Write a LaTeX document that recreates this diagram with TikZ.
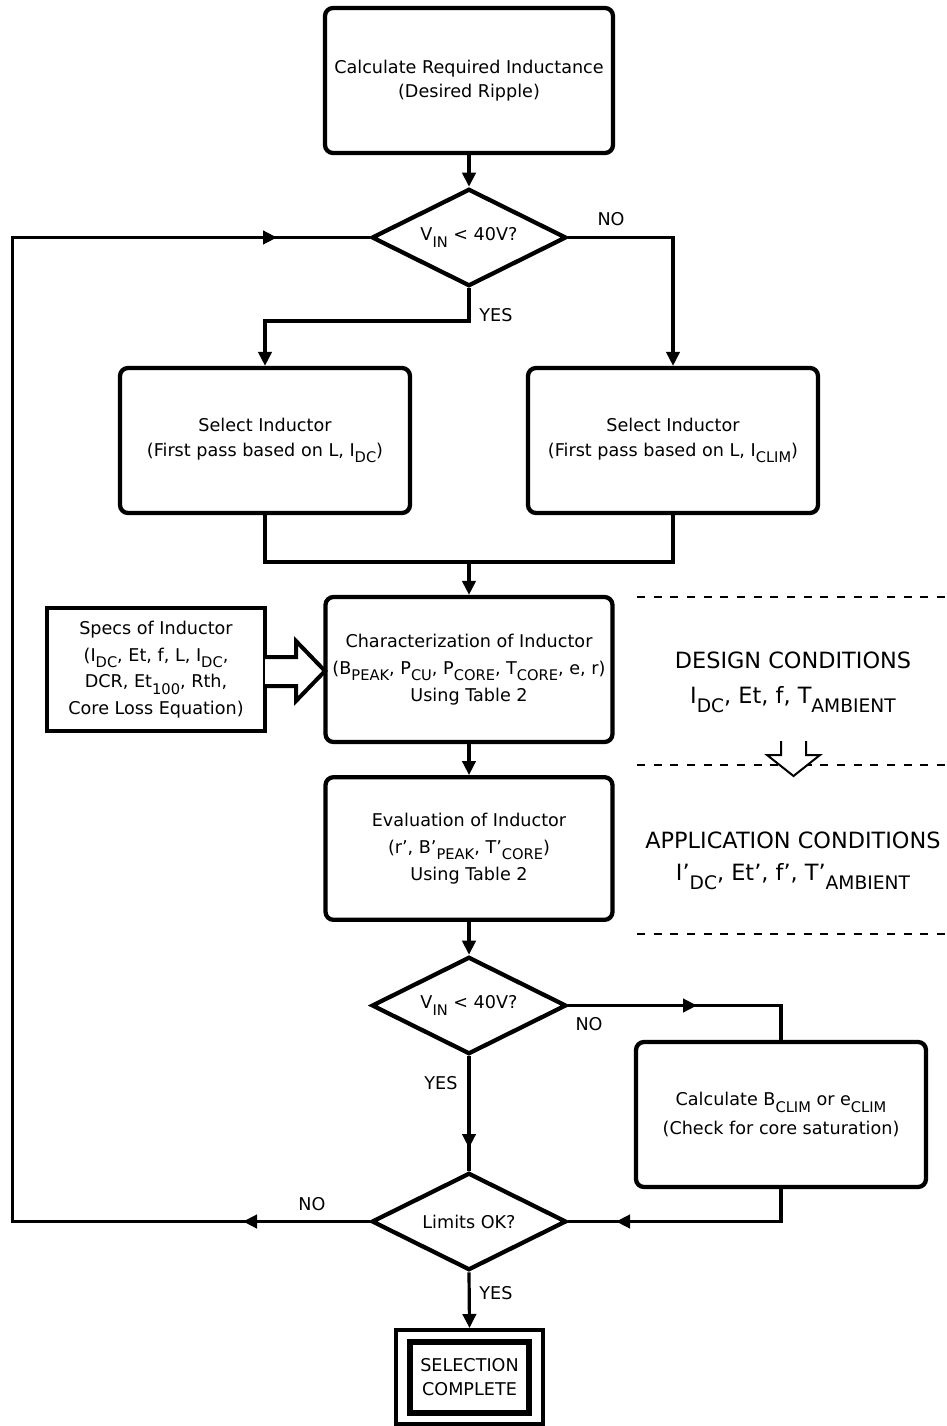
\documentclass[tikz,border=0pt]{standalone}
\usepackage{fontspec}
\setmainfont{DejaVu Sans}
\usetikzlibrary{shapes.geometric,arrows.meta}
\newcommand\sbs[1]{\raisebox{-4.8pt}{\fontsize{11}{11}\selectfont #1}}
\newcommand\sbb[1]{\raisebox{-6.8pt}{\fontsize{14}{14}\selectfont #1}}
\newcommand\bxf{\fontsize{13.2}{20}\selectfont}
\newcommand\bigf{\fontsize{16.8}{20}\selectfont}
\begin{document}
\begin{tikzpicture}[x=0.75pt,y=-0.75pt,
  rbox/.style={draw, line width=3.2pt, rounded corners=6pt, align=center, inner sep=0pt, font=\bxf},
  dia/.style={diamond, aspect=2, draw, line width=3.2pt, minimum width=146pt, minimum height=73pt, inner sep=0pt, font=\bxf},
  conn/.style={line width=2.4pt},
  arr/.style={conn, -{Triangle[length=10.5pt,width=10pt]}},
  lbl/.style={font=\bxf, inner sep=0pt},
  dline/.style={line width=1.5pt, dash pattern=on 6pt off 6.5pt},
  bigt/.style={anchor=base, font=\bigf, inner sep=0pt}]
\useasboundingbox (0,0) rectangle (946,1426);
% boxes
\node[rbox, minimum width=216pt, minimum height=108.75pt, font=\fontsize{13.2}{18}\selectfont] (top) at (469,80.5) {Calculate Required Inductance\\(Desired Ripple)};
\node[dia] (d1) at (469,237.5) {V\sbs{IN} < 40V?};
\node[rbox, minimum width=217.5pt, minimum height=108.75pt, font=\fontsize{13.2}{19}\selectfont] (selL) at (265,440.5) {Select Inductor\\(First pass based on L, I\sbs{DC})};
\node[rbox, minimum width=217.5pt, minimum height=108.75pt, font=\fontsize{13.2}{19}\selectfont] (selR) at (673,440.5) {Select Inductor\\(First pass based on L, I\sbs{CLIM})};
\node[rbox, minimum width=215.25pt, minimum height=108.75pt] (char) at (469,669.5) {Characterization of Inductor\\(B\sbs{PEAK}, P\sbs{CU}, P\sbs{CORE}, T\sbs{CORE}, e, r)\\Using Table 2};
\node[rbox, minimum width=215.25pt, minimum height=107pt] (eval) at (469,848.5) {Evaluation of Inductor\\(r', B'\sbs{PEAK}, T'\sbs{CORE})\\Using Table 2};
\node[draw, line width=3.2pt, align=center, inner sep=0pt, font=\bxf, minimum width=163.5pt, minimum height=92pt] (specs) at (156,669.5) {Specs of Inductor\\(I\sbs{DC}, Et, f, L, I\sbs{DC},\\DCR, Et\sbs{100}, Rth,\\Core Loss Equation)};
\node[dia] (d2) at (469,1005.5) {V\sbs{IN} < 40V?};
\node[rbox, minimum width=217.5pt, minimum height=108.75pt, font=\fontsize{13.2}{21.5}\selectfont] (calc) at (781,1114.5) {Calculate B\sbs{CLIM} or e\sbs{CLIM}\\(Check for core saturation)};
\node[dia] (d3) at (469,1221.5) {Limits OK?};
\node[draw, line width=3pt, minimum width=110pt, minimum height=70.5pt, inner sep=0pt] (fin) at (469.5,1377) {};
\node[draw, line width=4.5pt, minimum width=89pt, minimum height=53pt, inner sep=0pt, align=center, font=\fontsize{13.2}{18}\selectfont] (fin2) at (469.5,1377.5) {SELECTION\\COMPLETE};
% coordinates
\coordinate (yj) at (469,321);
\coordinate (mj) at (469,562);
\coordinate (c1) at (781,1005.5);
\coordinate (a1) at (697,1005.5);
\coordinate (c2) at (781,1221.5);
\coordinate (a2) at (616,1221.5);
\coordinate (a3) at (469,1148);
\coordinate (l1) at (12.5,1221.5);
\coordinate (l2) at (12.5,237.5);
\coordinate (a4) at (243,1221.5);
\coordinate (a5) at (277,237.5);
% connectors
\draw[arr] (top.south) -- (d1.north);
\draw[arr] (d1.east) -| (selR.north);
\draw[arr] (d1.south) -- (yj) -| (selL.north);
\draw[conn] (selL.south) |- (mj) -| (selR.south);
\draw[arr] (mj) -- (char.north);
\draw[arr] (char.south) -- (eval.north);
\draw[arr] (eval.south) -- (d2.north);
\draw[conn] (d2.east) -- (c1) -- (calc.north);
\draw[arr] (d2.east) -- (a1);
\draw[conn] (calc.south) -- (c2) -- (d3.east);
\draw[arr] (c2) -- (a2);
\draw[conn] (d2.south) -- (d3.north);
\draw[arr] (d2.south) -- (a3);
\draw[conn] (d3.west) -- (l1) -- (l2) -- (d1.west);
\draw[arr] (d3.west) -- (a4);
\draw[arr] (l2) -- (a5);
\draw[arr] (d3.south) -- (fin.north);
% labels
\node[lbl] (no1) at (611,219) {NO};
\node[lbl] (yes1) at (496,315) {YES};
\node[lbl] (no2) at (589,1024) {NO};
\node[lbl] (yes2) at (441,1083) {YES};
\node[lbl] (no3) at (312,1204) {NO};
\node[lbl] (yes3) at (496,1293) {YES};
% hollow arrow specs -> char
\draw[line width=3pt, fill=white, line join=miter] (265,657) -- (296,657) -- (296,641) -- (325,671) -- (296,701) -- (296,686) -- (265,686);
% dashed lines and conditions
\draw[dline] (637,597) -- (946,597);
\draw[dline] (637,765) -- (946,765);
\draw[dline] (637,934) -- (946,934);
\node[bigt] (dc1) at (793,668) {DESIGN CONDITIONS};
\node[bigt] (dc2) at (793,703) {I\sbb{DC}, Et, f, T\sbb{AMBIENT}};
\node[bigt] (ac1) at (793,848) {APPLICATION CONDITIONS};
\node[bigt] (ac2) at (793,880) {I'\sbb{DC}, Et', f', T'\sbb{AMBIENT}};
\draw[line width=1.5pt, fill=white] (781,741) -- (781,755) -- (767,755) -- (793.5,776) -- (820,755) -- (806,755) -- (806,741);
\end{tikzpicture}
\end{document}
